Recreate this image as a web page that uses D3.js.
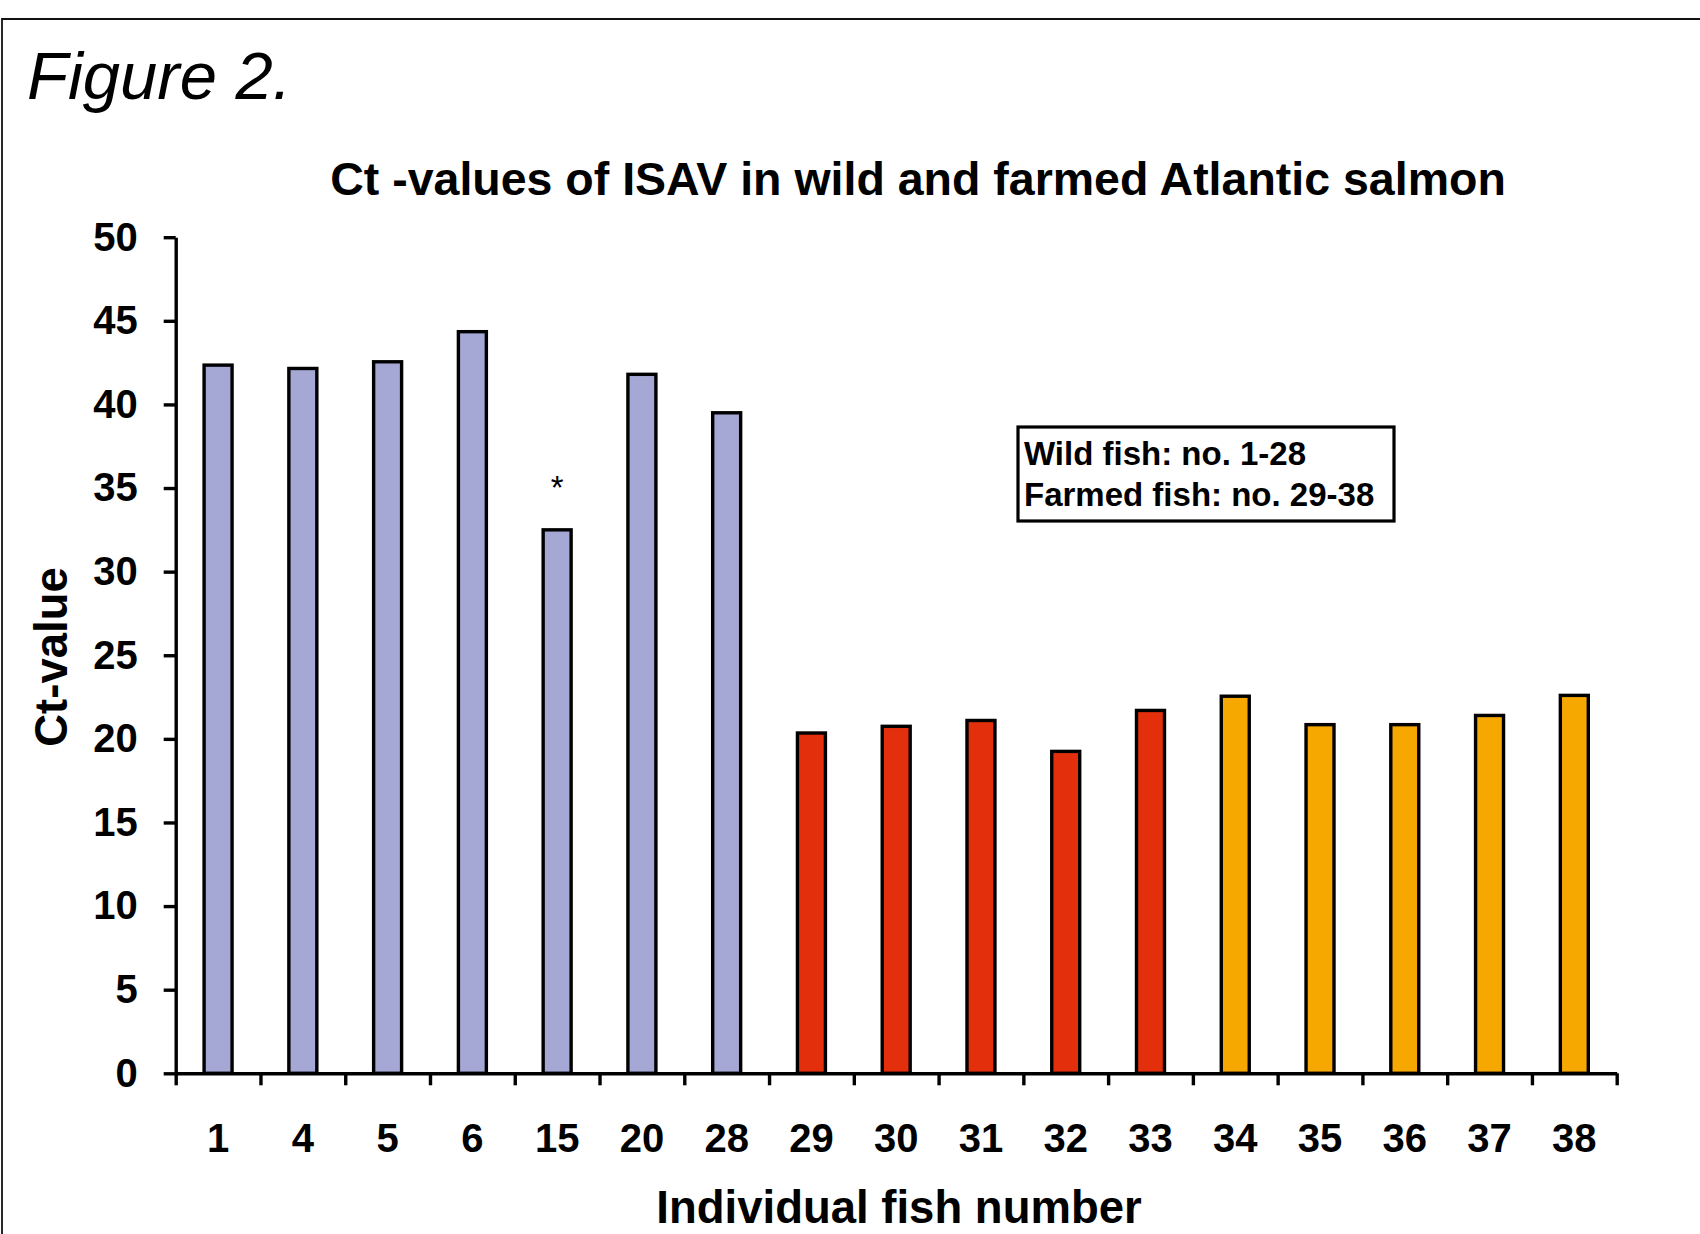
<!DOCTYPE html>
<html>
<head>
<meta charset="utf-8">
<script src="https://cdn.jsdelivr.net/npm/d3@7"></script>
<style>
  html, body { margin: 0; padding: 0; background: #fff; }
  svg { display: block; font-family: "Liberation Sans", Arial, sans-serif; }
</style>
</head>
<body>
<svg id="chart" width="1700" height="1234"></svg>
<script>
// ---- data ----
const fishNumbers = ["1","4","5","6","15","20","28","29","30","31","32","33","34","35","36","37","38"];
const ctValues    = [42.35, 42.15, 42.55, 44.35, 32.5, 41.8, 39.5, 20.35, 20.75, 21.1, 19.25, 21.7, 22.55, 20.85, 20.85, 21.4, 22.6];
const groups      = ["wild","wild","wild","wild","wild","wild","wild","farmA","farmA","farmA","farmA","farmA","farmB","farmB","farmB","farmB","farmB"];
const groupNames  = ["wild","farmA","farmB"];
const groupColors = ["#A5A7D4","#E32F0C","#F6A700"];
const yTicks      = [0,5,10,15,20,25,30,35,40,45,50];
const markedFish  = ["15"];
const legendLines = ["Wild fish: no. 1-28", "Farmed fish: no. 29-38"];

// ---- layout ----
const svg = d3.select("#chart");
const x0 = 175.7, x1 = 1616.7, yBase = 1073.3, yTop = 237.2;

const x = d3.scaleBand().domain(fishNumbers).range([x0, x1]).paddingInner(0.67).paddingOuter(0.335);
const xEdge = d3.scaleLinear().domain([0, fishNumbers.length]).range([x0, x1]);
const y = d3.scaleLinear().domain([0, 50]).range([yBase, yTop]);
const color = d3.scaleOrdinal().domain(groupNames).range(groupColors);

// frame
svg.append("path")
  .attr("d", `M2,1234 L2,19 L1700,19`)
  .attr("fill", "none").attr("stroke", "#111").attr("stroke-width", 1.8);

// figure label
svg.append("text").attr("x", 27).attr("y", 99)
  .attr("font-size", 67).attr("font-style", "italic").attr("fill", "#000")
  .text("Figure 2.");

// title
svg.append("text").attr("x", 918).attr("y", 195)
  .attr("text-anchor", "middle").attr("font-size", 46.5).attr("font-weight", "bold")
  .text("Ct -values of ISAV in wild and farmed Atlantic salmon");

// bars
const data = fishNumbers.map((f, i) => ({ f, v: ctValues[i], g: groups[i] }));
svg.append("g").selectAll("rect").data(data).join("rect")
  .attr("x", d => x(d.f))
  .attr("width", x.bandwidth())
  .attr("y", d => y(d.v))
  .attr("height", d => y(0) - y(d.v))
  .attr("fill", d => color(d.g))
  .attr("stroke", "#000").attr("stroke-width", 3.4);

// asterisk marks
svg.append("g").selectAll("text").data(data.filter(d => markedFish.includes(d.f))).join("text")
  .attr("x", d => x(d.f) + x.bandwidth() / 2)
  .attr("y", d => y(d.v) - 31)
  .attr("text-anchor", "middle").attr("font-size", 33)
  .text("*");

// y axis
const yAxis = svg.append("g").attr("transform", `translate(${x0},0)`)
  .call(d3.axisLeft(y).tickValues(yTicks).tickSize(12).tickPadding(26).tickSizeOuter(0));
yAxis.select(".domain").attr("stroke", "#000").attr("stroke-width", 3.4);
yAxis.selectAll(".tick line").attr("stroke", "#000").attr("stroke-width", 3.4);
yAxis.selectAll(".tick text").attr("font-size", 40).attr("font-weight", "bold")
  .attr("fill", "#000").attr("font-family", "Liberation Sans, Arial, sans-serif");

// x axis: tick marks at category boundaries
const xAxisTicks = svg.append("g").attr("transform", `translate(0,${yBase})`)
  .call(d3.axisBottom(xEdge).tickValues(d3.range(fishNumbers.length + 1))
    .tickSize(12).tickFormat("").tickSizeOuter(0));
xAxisTicks.select(".domain").attr("stroke", "#000").attr("stroke-width", 3.4);
xAxisTicks.selectAll(".tick line").attr("stroke", "#000").attr("stroke-width", 3.4);

// x labels
const xAxisLabels = svg.append("g").attr("transform", `translate(0,${yBase})`)
  .call(d3.axisBottom(x).tickSize(0).tickPadding(0));
xAxisLabels.select(".domain").remove();
xAxisLabels.selectAll(".tick text").attr("y", 79).attr("dy", 0)
  .attr("font-size", 40).attr("font-weight", "bold").attr("fill", "#000")
  .attr("font-family", "Liberation Sans, Arial, sans-serif");

// axis titles
svg.append("text").attr("transform", "translate(67,657) rotate(-90)")
  .attr("text-anchor", "middle").attr("font-size", 45.5).attr("font-weight", "bold")
  .text("Ct-value");
svg.append("text").attr("x", 899).attr("y", 1223)
  .attr("text-anchor", "middle").attr("font-size", 45.5).attr("font-weight", "bold")
  .text("Individual fish number");

// legend box
const lg = svg.append("g");
lg.append("rect").attr("x", 1018).attr("y", 427).attr("width", 376).attr("height", 94)
  .attr("fill", "#fff").attr("stroke", "#000").attr("stroke-width", 3.2);
lg.selectAll("text").data(legendLines).join("text")
  .attr("x", 1024).attr("y", (d, i) => 465 + i * 41)
  .attr("font-size", 33).attr("font-weight", "bold")
  .text(d => d);
</script>
</body>
</html>
